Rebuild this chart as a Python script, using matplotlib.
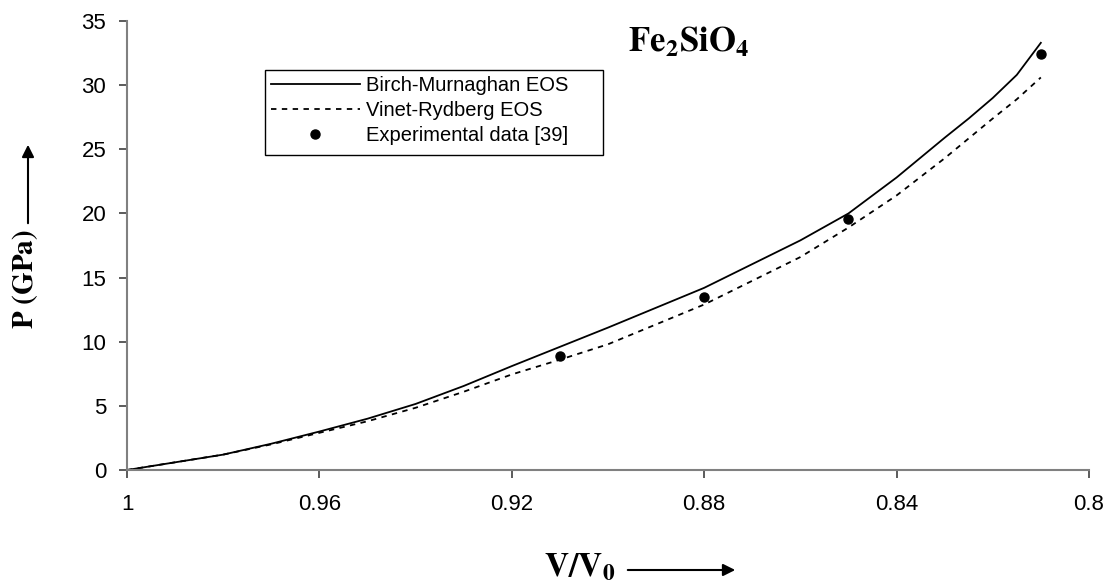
import matplotlib
matplotlib.use("Agg")
import matplotlib.pyplot as plt

# Birch-Murnaghan EOS curve (V/V0, P in GPa)
bm_v = [1.00, 0.99, 0.98, 0.97, 0.96, 0.95, 0.94, 0.93, 0.92, 0.91, 0.90, 0.88, 0.86, 0.85, 0.84, 0.83, 0.825, 0.82, 0.815, 0.81]
bm_p = [0.0, 0.6, 1.2, 2.05, 3.0, 4.0, 5.15, 6.55, 8.1, 9.6, 11.1, 14.2, 17.9, 20.0, 22.8, 25.9, 27.4, 29.0, 30.8, 33.3]

# Vinet-Rydberg EOS curve
vr_v = [1.00, 0.99, 0.98, 0.97, 0.96, 0.95, 0.94, 0.93, 0.92, 0.91, 0.90, 0.88, 0.86, 0.85, 0.84, 0.83, 0.82, 0.815, 0.81]
vr_p = [0.0, 0.6, 1.2, 2.0, 2.9, 3.8, 4.85, 6.1, 7.45, 8.6, 9.8, 12.9, 16.6, 18.9, 21.4, 24.3, 27.4, 28.9, 30.6]

# Experimental data [39]
exp_v = [0.91, 0.88, 0.85, 0.81]
exp_p = [8.9, 13.5, 19.6, 32.4]

x_ticks = [1, 0.96, 0.92, 0.88, 0.84, 0.8]
x_labels = ["1", "0.96", "0.92", "0.88", "0.84", "0.8"]
y_ticks = [0, 5, 10, 15, 20, 25, 30, 35]

plt.rcParams['font.family'] = ['Liberation Sans', 'DejaVu Sans']
plt.rcParams['mathtext.fontset'] = 'stix'

fig = plt.figure(figsize=(11.18, 5.87), dpi=100)
ax = fig.add_axes([0.1136, 0.1993, 0.8604, 0.7649])

ax.plot(bm_v, bm_p, color='black', lw=1.3, label='Birch-Murnaghan EOS')
ax.plot(vr_v, vr_p, color='black', lw=1.3, dashes=(3, 3), label='Vinet-Rydberg EOS')
ax.plot(exp_v, exp_p, 'o', color='black', ms=6.5, label='Experimental data [39]')

ax.set_xlim(1, 0.8)
ax.set_ylim(0, 35)
ax.set_xticks(x_ticks)
ax.set_xticklabels(x_labels)
ax.set_yticks(y_ticks)

for side in ['top', 'right']:
    ax.spines[side].set_visible(False)
for side in ['left', 'bottom']:
    ax.spines[side].set_color('#808080')
    ax.spines[side].set_linewidth(1.5)
ax.tick_params(direction='out', length=6, width=1.2, color='#404040',
               labelsize=16)
ax.tick_params(axis='x', pad=11)
ax.tick_params(axis='y', pad=9)

# legend entries, the box round them is drawn separately (wider on the right)
leg = ax.legend(loc='upper left', bbox_to_anchor=(265 / 1118, 1 - 70 / 587),
                bbox_transform=fig.transFigure, fontsize=14.5, frameon=False,
                handlelength=4.4, handletextpad=0.3,
                borderpad=0.3, labelspacing=0.3, borderaxespad=0)
fig.add_artist(matplotlib.patches.Rectangle(
    (265 / 1118, 1 - 155 / 587), 338 / 1118, 85 / 587,
    transform=fig.transFigure, fill=False, edgecolor='black', lw=1.0))

# title inside the plot
fig.text(689 / 1118, 1 - 42 / 587, r'$\mathbf{Fe_{2}SiO_{4}}$', fontsize=25,
         ha='center', va='center')

# y label with arrow
fig.text(25 / 1118, 1 - 279 / 587, r'$\mathbf{P\ (GPa)}$', fontsize=21,
         rotation=90, ha='center', va='center')
fig.add_artist(matplotlib.patches.FancyArrowPatch(
    (28 / 1118, 1 - 226 / 587), (28 / 1118, 1 - 142 / 587),
    transform=fig.transFigure, arrowstyle='-|>', mutation_scale=18,
    color='black', lw=1.5))

# x label with arrow
fig.text(580 / 1118, 1 - 567 / 587, r'$\mathbf{V/V_{0}}$', fontsize=24,
         ha='center', va='center')
fig.add_artist(matplotlib.patches.FancyArrowPatch(
    (625 / 1118, 1 - 570 / 587), (738 / 1118, 1 - 570 / 587),
    transform=fig.transFigure, arrowstyle='-|>', mutation_scale=18,
    color='black', lw=1.5))

fig.savefig('out.png', dpi=100)
